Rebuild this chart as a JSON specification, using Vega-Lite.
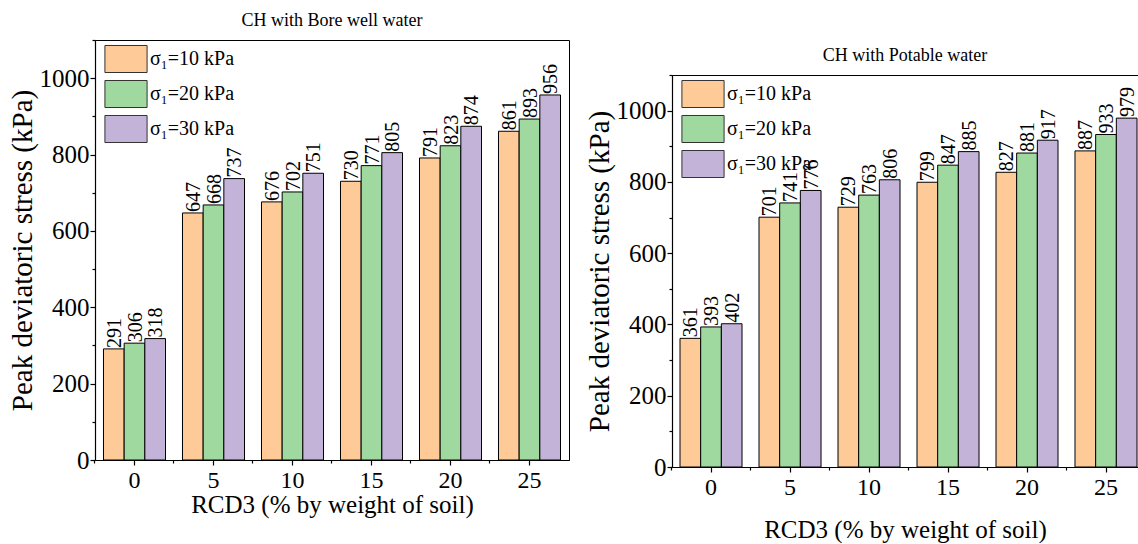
{
  "$schema": "https://vega.github.io/schema/vega-lite/v6.json",
  "padding": {"left": 7, "top": 11, "right": 0, "bottom": 0},
  "background": "white",
  "spacing": 14,
  "config": {
    "font": "Liberation Serif",
    "view": {"stroke": "black", "strokeWidth": 1},
    "axis": {
      "domainColor": "black", "tickColor": "black", "labelColor": "black", "titleColor": "black",
      "labelFont": "Liberation Serif", "titleFont": "Liberation Serif",
      "labelFontSize": 24, "titleFontSize": 25, "titleFontWeight": "normal", "grid": false,
      "domainWidth": 1.2, "tickWidth": 1.2
    },
    "legend": {
      "labelFont": "Liberation Serif", "labelFontSize": 20, "labelColor": "black",
      "symbolType": "M-1.14,-0.73H1.14V0.73H-1.14Z", "symbolSize": 1369,
      "symbolStrokeColor": "#333333", "symbolStrokeWidth": 1, "rowPadding": 0,
      "labelOffset": 5, "padding": 0
    },
    "title": {"font": "Liberation Serif", "fontSize": 18, "fontWeight": "normal", "color": "black", "offset": 9}
  },
  "resolve": {"scale": {"x": "independent", "y": "independent", "color": "independent", "xOffset": "independent"}},
  "hconcat": [
    {
      "width": 474, "height": 420,
      "title": {"text": "CH with Bore well water"},
      "data": {"values": [
        {"rcd": 0, "s": "σ₁=10 kPa", "v": 291}, {"rcd": 0, "s": "σ₁=20 kPa", "v": 306}, {"rcd": 0, "s": "σ₁=30 kPa", "v": 318},
        {"rcd": 5, "s": "σ₁=10 kPa", "v": 647}, {"rcd": 5, "s": "σ₁=20 kPa", "v": 668}, {"rcd": 5, "s": "σ₁=30 kPa", "v": 737},
        {"rcd": 10, "s": "σ₁=10 kPa", "v": 676}, {"rcd": 10, "s": "σ₁=20 kPa", "v": 702}, {"rcd": 10, "s": "σ₁=30 kPa", "v": 751},
        {"rcd": 15, "s": "σ₁=10 kPa", "v": 730}, {"rcd": 15, "s": "σ₁=20 kPa", "v": 771}, {"rcd": 15, "s": "σ₁=30 kPa", "v": 805},
        {"rcd": 20, "s": "σ₁=10 kPa", "v": 791}, {"rcd": 20, "s": "σ₁=20 kPa", "v": 823}, {"rcd": 20, "s": "σ₁=30 kPa", "v": 874},
        {"rcd": 25, "s": "σ₁=10 kPa", "v": 861}, {"rcd": 25, "s": "σ₁=20 kPa", "v": 893}, {"rcd": 25, "s": "σ₁=30 kPa", "v": 956}
      ]},
      "resolve": {"axis": {"x": "independent", "y": "independent"}},
      "layer": [
        {
          "mark": {"type": "bar", "stroke": "black", "strokeWidth": 1},
          "encoding": {
            "x": {"field": "rcd", "type": "ordinal", "scale": {"type": "band", "paddingInner": 0.215, "paddingOuter": 0.1075},
                  "axis": {"title": "RCD3 (% by weight of soil)", "labelAngle": 0, "tickSize": 5, "labelPadding": 3, "titlePadding": 0, "orient": "bottom"}},
            "xOffset": {"field": "s", "type": "nominal", "scale": {"paddingInner": 0, "paddingOuter": 0}},
            "y": {"field": "v", "type": "quantitative", "scale": {"domain": [0, 1100], "nice": false},
                  "axis": {"title": "Peak deviatoric stress (kPa)", "titleFontSize": 29, "labelFontSize": 25, "format": "d", "values": [0, 200, 400, 600, 800, 1000], "tickSize": 5, "labelPadding": 1, "titlePadding": 2, "orient": "left"}},
            "color": {"field": "s", "type": "nominal",
                      "scale": {"domain": ["σ₁=10 kPa", "σ₁=20 kPa", "σ₁=30 kPa"], "range": ["#FDCA98", "#9FD99F", "#C4B3D8"]},
                      "legend": {"title": null, "orient": "none", "legendX": 12, "legendY": 0}}
          }
        },
        {
          "mark": {"type": "text", "angle": -90, "align": "left", "baseline": "middle", "dx": 1, "dy": 1, "fontSize": 20, "font": "Liberation Serif", "color": "black"},
          "encoding": {
            "x": {"field": "rcd", "type": "ordinal",
                  "axis": {"orient": "bottom", "labels": false, "title": null, "domain": false, "tickSize": 3, "bandPosition": -0.137}},
            "xOffset": {"field": "s", "type": "nominal"},
            "y": {"field": "v", "type": "quantitative",
                  "axis": {"orient": "left", "labels": false, "title": null, "domain": false, "tickSize": 3, "values": [100, 300, 500, 700, 900, 1100]}},
            "text": {"field": "v", "type": "quantitative"}
          }
        }
      ]
    },
    {
      "spacing": 0,
      "vconcat": [
        {
          "width": 10, "height": 6,
          "view": {"stroke": null},
          "data": {"values": [{"a": 1}]},
          "mark": {"type": "point", "opacity": 0},
          "encoding": {}
        },
        {
          "width": 466, "height": 392,
          "title": {"text": "CH with Potable water"},
          "data": {"values": [
            {"rcd": 0, "s": "σ₁=10 kPa", "v": 361}, {"rcd": 0, "s": "σ₁=20 kPa", "v": 393}, {"rcd": 0, "s": "σ₁=30 kPa", "v": 402},
            {"rcd": 5, "s": "σ₁=10 kPa", "v": 701}, {"rcd": 5, "s": "σ₁=20 kPa", "v": 741}, {"rcd": 5, "s": "σ₁=30 kPa", "v": 776},
            {"rcd": 10, "s": "σ₁=10 kPa", "v": 729}, {"rcd": 10, "s": "σ₁=20 kPa", "v": 763}, {"rcd": 10, "s": "σ₁=30 kPa", "v": 806},
            {"rcd": 15, "s": "σ₁=10 kPa", "v": 799}, {"rcd": 15, "s": "σ₁=20 kPa", "v": 847}, {"rcd": 15, "s": "σ₁=30 kPa", "v": 885},
            {"rcd": 20, "s": "σ₁=10 kPa", "v": 827}, {"rcd": 20, "s": "σ₁=20 kPa", "v": 881}, {"rcd": 20, "s": "σ₁=30 kPa", "v": 917},
            {"rcd": 25, "s": "σ₁=10 kPa", "v": 887}, {"rcd": 25, "s": "σ₁=20 kPa", "v": 933}, {"rcd": 25, "s": "σ₁=30 kPa", "v": 979}
          ]},
          "resolve": {"axis": {"x": "independent", "y": "independent"}},
          "layer": [
            {
              "mark": {"type": "bar", "stroke": "black", "strokeWidth": 1},
              "encoding": {
                "x": {"field": "rcd", "type": "ordinal", "scale": {"type": "band", "paddingInner": 0.215, "paddingOuter": 0.057, "align": 0.89},
                      "axis": {"title": "RCD3 (% by weight of soil)", "labelAngle": 0, "tickSize": 5, "labelPadding": 3, "titlePadding": 18, "orient": "bottom"}},
                "xOffset": {"field": "s", "type": "nominal", "scale": {"paddingInner": 0, "paddingOuter": 0}},
                "y": {"field": "v", "type": "quantitative", "scale": {"domain": [0, 1100], "nice": false},
                      "axis": {"title": "Peak deviatoric stress (kPa)", "titleFontSize": 29, "labelFontSize": 25, "format": "d", "values": [0, 200, 400, 600, 800, 1000], "tickSize": 5, "labelPadding": 1, "titlePadding": 2, "orient": "left"}},
                "color": {"field": "s", "type": "nominal",
                          "scale": {"domain": ["σ₁=10 kPa", "σ₁=20 kPa", "σ₁=30 kPa"], "range": ["#FDCA98", "#9FD99F", "#C4B3D8"]},
                          "legend": {"title": null, "orient": "none", "legendX": 12, "legendY": 35}}
              }
            },
            {
              "mark": {"type": "text", "angle": -90, "align": "left", "baseline": "middle", "dx": 1, "dy": 1, "fontSize": 20, "font": "Liberation Serif", "color": "black"},
              "encoding": {
                "x": {"field": "rcd", "type": "ordinal",
                      "axis": {"orient": "bottom", "labels": false, "title": null, "domain": false, "tickSize": 3, "bandPosition": -0.137}},
                "xOffset": {"field": "s", "type": "nominal"},
                "y": {"field": "v", "type": "quantitative",
                      "axis": {"orient": "left", "labels": false, "title": null, "domain": false, "tickSize": 3, "values": [100, 300, 500, 700, 900, 1100]}},
                "text": {"field": "v", "type": "quantitative"}
              }
            }
          ]
        }
      ]
    }
  ]
}
